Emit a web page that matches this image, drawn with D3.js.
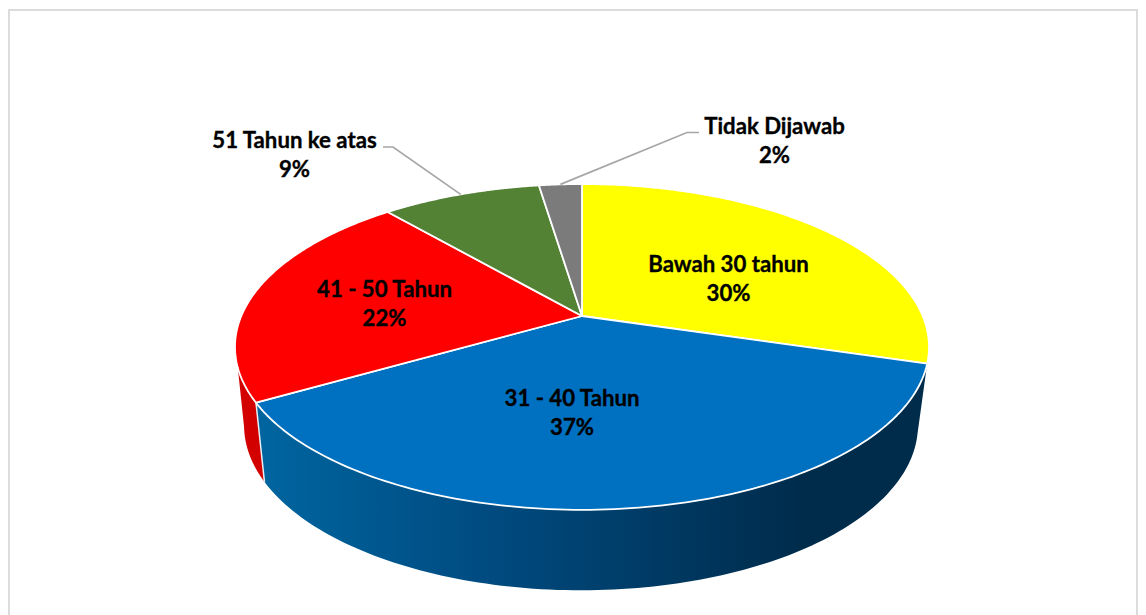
<!DOCTYPE html>
<html>
<head>
<meta charset="utf-8">
<script src="https://cdn.jsdelivr.net/npm/d3@7"></script>
<style>
  html, body { margin: 0; background: #fff; }
  svg { display: block; }
  text { font-family: Lato, "Open Sans", sans-serif; font-weight: 700; fill: #000; stroke: #000; stroke-width: 0.35px; font-size: 22.2px; text-anchor: middle; }
</style>
</head>
<body>
<svg id="chart" width="1146" height="615"></svg>
<script>
// Age groups of the respondents, clockwise from twelve o'clock
const categories = ["Bawah 30 tahun", "31 - 40 Tahun", "41 - 50 Tahun", "51 Tahun ke atas", "Tidak Dijawab"];
const shares = [29.6, 37.0, 22.0, 8.9, 2.4];
const sliceColors = ["#ffff00", "#0070c0", "#ff0000", "#548235", "#7b7b7b"];

const svg = d3.select("#chart");
const defs = svg.append("defs");

// Tilted-disc projection: unit circle to screen, with the far edge foreshortened
const tilt = 0.19;
const hub = [582, 316];
function projector(cx, cy, sx, sy) {
  return angle => {
    const x = Math.sin(angle), y = Math.cos(angle), w = 1 + tilt * y;
    return [cx + sx * x / w, cy - sy * y / w];
  };
}
const topDisc = projector(hub[0], hub[1], 340.7, 157);
const baseDisc = projector(581, 394, 330.8, 159);

const rad = deg => deg * Math.PI / 180;
const line = d3.line();
const arcPoints = (proj, a0, a1) => d3.range(0, 121).map(i => proj(a0 + (a1 - a0) * i / 120));

// Frame around the chart area, running off the bottom of the page
svg.append("rect").attr("x", 9).attr("y", 10).attr("width", 1128).attr("height", 620)
  .attr("fill", "#fff").attr("stroke", "#dcdcdc").attr("stroke-width", 2);

const pie = d3.pie().sort(null).value(d => d);
const slices = pie(shares);

// Side walls: only the front-facing parts of the blue and red slices show
const blueWall = defs.append("linearGradient").attr("id", "blueWall")
  .attr("gradientUnits", "userSpaceOnUse").attr("x1", 262).attr("x2", 800).attr("y1", 0).attr("y2", 0);
blueWall.append("stop").attr("offset", 0).attr("stop-color", "#00659f");
blueWall.append("stop").attr("offset", 0.4).attr("stop-color", "#004c82");
blueWall.append("stop").attr("offset", 1).attr("stop-color", "#002c4c");

const blue = slices[1], red = slices[2];
const wallPath = (t0, t1, b0, b1) =>
  line(arcPoints(topDisc, t0, t1).concat(arcPoints(baseDisc, b1, b0))) + "Z";

svg.append("path")
  .attr("d", wallPath(red.startAngle, rad(252), red.startAngle, rad(258.5)))
  .attr("fill", "#d30000");
svg.append("path")
  .attr("d", wallPath(blue.startAngle, blue.endAngle, rad(104), blue.endAngle))
  .attr("fill", "url(#blueWall)");

// Seam between the two walls
svg.append("path")
  .attr("d", line([topDisc(blue.endAngle), baseDisc(blue.endAngle)]))
  .attr("fill", "none").attr("stroke", "#e8eef4").attr("stroke-width", 1.5);

// Top surface
svg.append("g").selectAll("path").data(slices).join("path")
  .attr("d", d => line([hub].concat(arcPoints(topDisc, d.startAngle, d.endAngle))) + "Z")
  .attr("fill", (d, i) => sliceColors[i])
  .attr("stroke", "#fff").attr("stroke-width", 1.8).attr("stroke-linejoin", "round");

// Leader lines for the two labels outside the disc
const leader = (elbow, end, a) => svg.append("path")
  .attr("d", line([end, elbow, topDisc(a)]))
  .attr("fill", "none").attr("stroke", "#a6a6a6").attr("stroke-width", 1.7);
const mid = d => (d.startAngle + d.endAngle) / 2;
leader([393, 147], [383, 147], mid(slices[3]));
leader([687, 132.5], [699, 132.5], mid(slices[4]));

// Labels: category on the first line, rounded share on the second
const labelAt = [[728.5, 265], [572, 399], [384.5, 290], [294.5, 141], [774.5, 127]];
const fmt = d3.format(".0f");
const labels = svg.append("g").selectAll("text").data(slices).join("text")
  .attr("transform", (d, i) => `translate(${labelAt[i][0]},${labelAt[i][1]})`);
labels.append("tspan").attr("x", 0).attr("y", 7).text((d, i) => categories[i]);
labels.append("tspan").attr("x", 0).attr("y", 36).text(d => fmt(d.value) + "%");
</script>
</body>
</html>
